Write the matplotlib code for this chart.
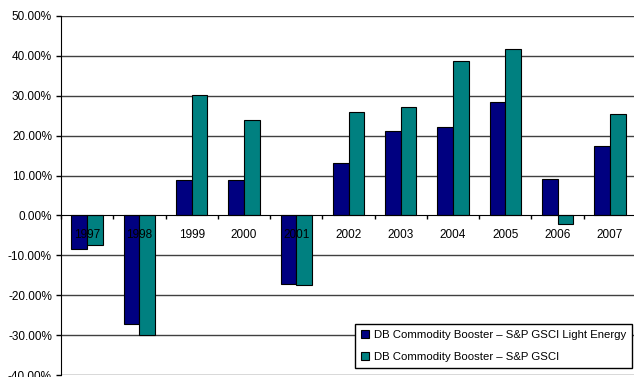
import matplotlib
matplotlib.use("Agg")
import matplotlib.pyplot as plt
import matplotlib.ticker as mticker
import numpy as np

years = ["1997", "1998", "1999", "2000", "2001", "2002",
         "2003", "2004", "2005", "2006", "2007"]
light_energy = [-8.4, -27.1, 8.9, 8.9, -17.2, 13.1, 21.1, 22.2, 28.5, 9.2, 17.5]
gsci = [-7.5, -30.0, 30.2, 23.8, -17.4, 25.9, 27.1, 38.6, 41.6, -2.2, 25.4]
labels = ["DB Commodity Booster \u2013 S&P GSCI Light Energy",
          "DB Commodity Booster \u2013 S&P GSCI"]

plt.rcParams["font.family"] = ["Liberation Sans", "DejaVu Sans"]
plt.rcParams["font.size"] = 8.5

fig = plt.figure(figsize=(6.34, 3.77), dpi=100)
ax = fig.add_axes([0.0962, 0.0053, 0.907, 0.9523])
ax.set_axisbelow(False)

x = np.arange(len(years))
w = 0.3
ax.bar(x - w / 2, light_energy, w, color="#000080", edgecolor="black",
       linewidth=0.8, label=labels[0], zorder=1)
ax.bar(x + w / 2, gsci, w, color="#008080", edgecolor="black",
       linewidth=0.8, label=labels[1], zorder=1)

ax.set_xlim(-0.5, len(years) - 0.5)
ax.set_ylim(-40, 50)

# horizontal grid behind the bars
for v in range(-40, 51, 10):
    if v != 0:
        ax.axhline(v, color="#404040", linewidth=1.0, zorder=0)

ax.set_yticks(range(-40, 51, 10))
ax.yaxis.set_major_formatter(mticker.FuncFormatter(lambda v, p: f"{v:.2f}%"))
ax.tick_params(axis="y", direction="out", length=3.5, width=1, pad=3,
               labelsize=8.5, colors="black")

# category axis sits on the zero line
ax.spines["bottom"].set_position(("data", 0))
ax.spines["bottom"].set_zorder(3)
ax.spines["top"].set_visible(False)
ax.spines["right"].set_visible(False)
ax.set_xticks(x)
ax.set_xticklabels(years)
ax.set_xticks(np.arange(-0.5, len(years), 1.0), minor=True)
ax.tick_params(axis="x", which="major", length=0, pad=10, labelsize=8.5)
ax.tick_params(axis="x", which="minor", direction="out", length=3, width=1)

leg = ax.legend(loc="lower right", bbox_to_anchor=(0.997, 0.024),
                bbox_transform=fig.transFigure, borderaxespad=0,
                fancybox=False, edgecolor="black", framealpha=1,
                handlelength=0.7, handleheight=0.7, handletextpad=0.4,
                labelspacing=1.0, borderpad=0.55, fontsize=8.2)
leg.get_frame().set_linewidth(1.0)
leg.set_zorder(5)

fig.savefig("out.png", dpi=100)
